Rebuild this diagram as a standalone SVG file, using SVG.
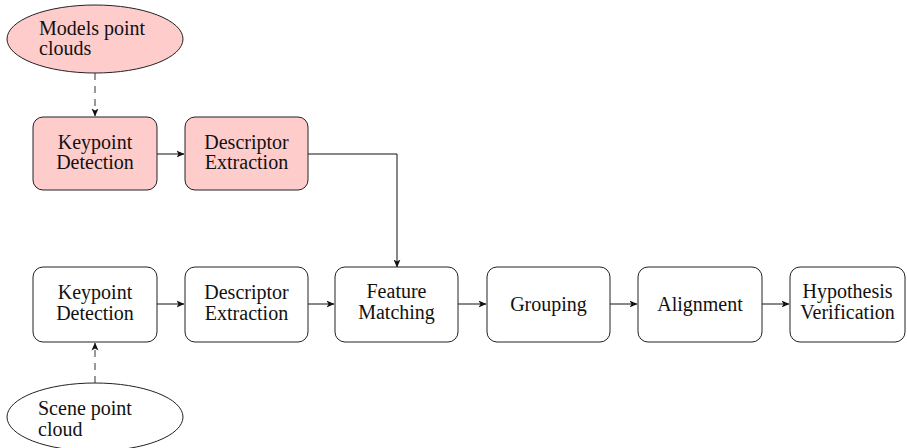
<svg xmlns="http://www.w3.org/2000/svg" width="907" height="448" viewBox="0 0 907 448">
  <style>
    .box { stroke: #222; stroke-width: 1; }
    .model { fill: #ffcccc; }
    .plain { fill: #ffffff; }
    .lbl { font-family: "Liberation Serif", "DejaVu Serif", serif; font-size: 20px; fill: #111; }
    .mid { text-anchor: middle; }
    .edge { fill: none; stroke: #111; stroke-width: 1; }
    .dash { fill: none; stroke: #555; stroke-width: 1.2; stroke-dasharray: 7 6; }
  </style>
  <defs>
    <marker id="arrow" viewBox="0 0 8 8" refX="7.5" refY="4" markerWidth="8" markerHeight="8" markerUnits="userSpaceOnUse" orient="auto">
      <path d="M0,0.5 L8,4 L0,7.5 L2,4 Z" fill="#111"/>
    </marker>
  </defs>
  <rect width="907" height="448" fill="#ffffff"/>

  <!-- connectors -->
  <g id="connectors">
    <path class="dash" d="M95,73 V116" marker-end="url(#arrow)"/>
    <path class="edge" d="M157,154 H184" marker-end="url(#arrow)"/>
    <path class="edge" d="M308,154 H397 V267" marker-end="url(#arrow)"/>
    <path class="edge" d="M157,304 H184" marker-end="url(#arrow)"/>
    <path class="edge" d="M308,304 H334" marker-end="url(#arrow)"/>
    <path class="edge" d="M458,304 H486" marker-end="url(#arrow)"/>
    <path class="edge" d="M610,304 H637" marker-end="url(#arrow)"/>
    <path class="edge" d="M762,304 H789" marker-end="url(#arrow)"/>
    <path class="dash" d="M95,383 V343" marker-end="url(#arrow)"/>
  </g>

  <!-- model pipeline -->
  <g id="models-cloud">
    <ellipse class="box model" cx="95" cy="39" rx="88" ry="34"/>
    <text class="lbl" x="39" y="35">Models point</text>
    <text class="lbl" x="39" y="55">clouds</text>
  </g>
  <g id="model-keypoint">
    <rect class="box model" x="33" y="117" width="124" height="73" rx="10"/>
    <text class="lbl mid" x="95" y="149">Keypoint</text>
    <text class="lbl mid" x="95" y="169">Detection</text>
  </g>
  <g id="model-descriptor">
    <rect class="box model" x="185" y="117" width="123" height="73" rx="10"/>
    <text class="lbl mid" x="246.5" y="149">Descriptor</text>
    <text class="lbl mid" x="246.5" y="169">Extraction</text>
  </g>

  <!-- scene pipeline -->
  <g id="scene-keypoint">
    <rect class="box plain" x="33" y="267" width="124" height="75" rx="10"/>
    <text class="lbl mid" x="95" y="299">Keypoint</text>
    <text class="lbl mid" x="95" y="320">Detection</text>
  </g>
  <g id="scene-descriptor">
    <rect class="box plain" x="185" y="267" width="123" height="75" rx="10"/>
    <text class="lbl mid" x="246.5" y="299">Descriptor</text>
    <text class="lbl mid" x="246.5" y="320">Extraction</text>
  </g>
  <g id="feature-matching">
    <rect class="box plain" x="335" y="267" width="123" height="75" rx="10"/>
    <text class="lbl mid" x="396.5" y="298">Feature</text>
    <text class="lbl mid" x="396.5" y="319">Matching</text>
  </g>
  <g id="grouping">
    <rect class="box plain" x="487" y="267" width="123" height="75" rx="10"/>
    <text class="lbl mid" x="548.5" y="311">Grouping</text>
  </g>
  <g id="alignment">
    <rect class="box plain" x="638" y="267" width="124" height="75" rx="10"/>
    <text class="lbl mid" x="700" y="311">Alignment</text>
  </g>
  <g id="hypothesis-verification">
    <rect class="box plain" x="790" y="267" width="115" height="75" rx="10"/>
    <text class="lbl mid" x="847.5" y="298">Hypothesis</text>
    <text class="lbl mid" x="847.5" y="319">Verification</text>
  </g>
  <g id="scene-cloud">
    <ellipse class="box plain" cx="95" cy="417" rx="88" ry="34"/>
    <text class="lbl" x="38" y="415">Scene point</text>
    <text class="lbl" x="38" y="436">cloud</text>
  </g>
</svg>
